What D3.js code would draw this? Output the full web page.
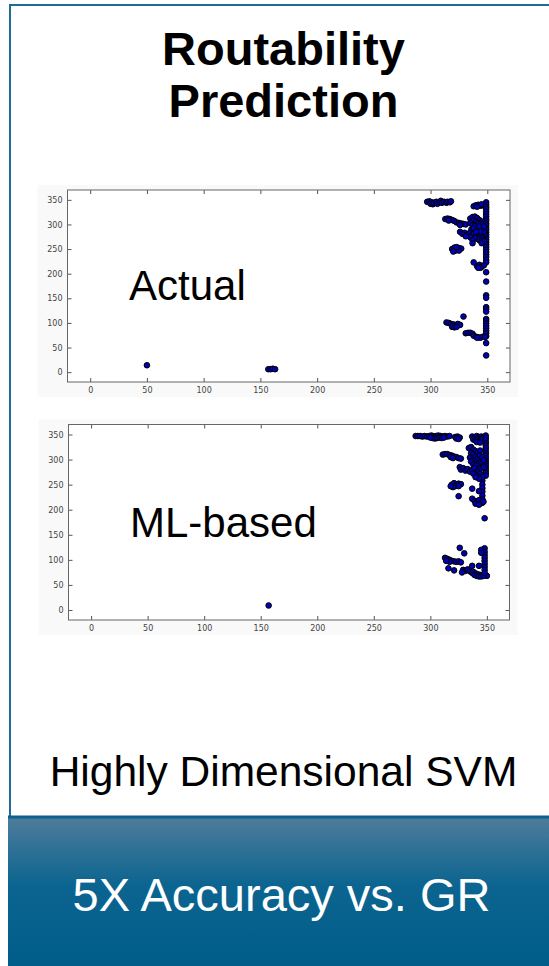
<!DOCTYPE html>
<html>
<head>
<meta charset="utf-8">
<script src="https://cdn.jsdelivr.net/npm/d3@7"></script>
<style>
  body { margin: 0; background: #fff; }
  svg { display: block; font-family: "Liberation Sans", Arial, sans-serif; }
</style>
</head>
<body>
<div id="chart"></div>
<script>
// tick values shared by both scatter plots
var tickValues = [0, 50, 100, 150, 200, 250, 300, 350];

// actual routability hotspots [x, y]
var actualPoints = [
  [297,346],[299,347],[301,345],[300,342],[302,341],[303,344],[305,346],[306,342],[308,345],[309,348],
  [310,344],[312,346],[314,344],[315,346],[317,345],[318,347],
  [338,337],[340,339],[342,340],[344,338],[346,339],[341,336],[345,341],
  [349,345],[349,340],[349,335],[349,331],[349,326],[349,321],[349,316],[349,311],[349,307],[349,302],
  [349,298],[349,293],[349,289],[349,284],[349,279],[349,274],[349,269],[349,264],[349,259],[349,254],
  [349,249],[349,244],[349,239],[349,234],[349,228],[349,223],[349,203],[349,184],[349,156],[349,151],
  [349,132],[349,128],[349,123],[349,108],[349,104],[349,99],[349,94],[349,89],[349,84],[349,79],
  [349,73],[349,59],[349,34],
  [313,311],[315,312],[317,311],[319,309],[321,307],[323,304],[316,308],[325,303],[327,302],[329,301],
  [331,300],[326,299],
  [335,312],[337,315],[339,316],[341,313],[343,309],[345,306],[338,308],[340,305],[342,303],[344,301],
  [346,300],[335,303],[337,299],[339,297],[343,296],[347,296],[336,290],[338,292],
  [326,285],[328,281],[330,283],[332,279],[334,282],[336,278],[338,281],[340,277],[342,280],[344,276],
  [346,279],[348,281],[345,271],[343,268],[341,271],[339,273],[335,274],[331,276],[347,285],[344,286],
  [340,285],[337,268],[347,266],[345,262],[337,262],
  [319,250],[321,253],[323,249],[325,252],[327,251],[322,247],[320,245],[325,247],[323,254],
  [338,223],
  [341,215],[343,218],[345,214],[347,217],[344,212],[342,212],
  [314,101],[316,100],[318,98],[320,97],[322,94],[324,98],[326,96],[319,92],[321,91],[323,92],
  [329,113],
  [331,79],[333,80],[335,80],[337,78],
  [338,74],[340,72],[342,71],[344,70],[346,72],[348,71],[341,70],
  [50,14],[157,6],[159,6],[161,7],[163,6]
];

// ML-based prediction [x, y]
var mlPoints = [
  [287,347],[289,347],[291,347],[293,346],[295,347],[297,346],[299,347],[301,348],[303,346],[305,347],
  [307,348],[309,347],[311,346],[313,347],[315,346],[317,347],[302,343],[304,342],[306,343],[308,344],
  [310,343],[300,344],[312,344],
  [322,345],[324,346],[326,344],[323,342],[325,341],
  [337,346],[339,344],[341,347],[343,345],[345,346],[347,344],[338,340],[340,338],[342,340],[344,339],
  [346,341],[341,335],[344,334],
  [349,348],[349,343],[349,338],[349,333],[349,328],[349,323],[349,318],[349,313],[349,308],[349,303],
  [349,298],[349,293],[349,288],[349,283],[349,278],[349,273],[349,268],
  [346,258],[346,250],[346,243],[346,236],[346,228],[346,221],[346,214],
  [348,183],
  [311,310],[313,311],[315,311],[317,309],[319,308],[321,306],[323,305],[325,303],[327,302],[318,305],
  [320,303],
  [334,323],[336,325],[338,320],[340,317],[342,314],[344,318],[336,313],[338,310],[340,306],[342,303],
  [344,308],[346,305],[335,304],[337,300],[339,297],[341,294],[343,292],[345,296],[347,299],[336,296],
  [338,290],[340,288],
  [326,285],[327,280],[329,283],[331,278],[333,281],[335,276],[337,279],[339,283],[341,275],[343,278],
  [345,282],[347,285],[344,271],[341,268],[338,272],[346,265],[343,262],[340,265],
  [319,250],[321,253],[323,249],[325,252],[327,251],[322,247],[320,245],[325,247],[318,247],
  [325,227],[337,242],[343,237],
  [337,222],[339,218],[341,215],[343,219],[345,213],[347,216],[340,212],[343,210],
  [326,124],[330,113],
  [313,104],[315,102],[317,100],[319,98],[321,97],[323,96],[325,97],[327,95],[317,96],[314,98],
  [316,83],[321,79],
  [329,80],[331,78],[333,81],[335,77],[337,74],[328,75],
  [338,76],[340,73],[342,71],[344,70],[346,69],[348,70],[350,68],[339,70],[341,68],[343,67],
  [345,67],[347,68],
  [348,123],[348,116],[348,110],[348,104],[348,98],[348,92],[348,86],[348,80],[348,74],[345,120],
  [345,114],
  [343,88],[337,88],
  [157,9]
];

var W = 549, H = 966;

var svg = d3.select("#chart")
  .append("svg")
  .attr("width", W)
  .attr("height", H);

// panel frame
svg.append("rect")
  .attr("x", 0).attr("y", 0).attr("width", W).attr("height", H)
  .attr("fill", "#fff");
svg.append("line")
  .attr("x1", 10).attr("x2", W).attr("y1", 5).attr("y2", 5)
  .attr("stroke", "#1f6d93").attr("stroke-width", 2);
svg.append("line")
  .attr("x1", 10).attr("x2", 10).attr("y1", 4).attr("y2", 817)
  .attr("stroke", "#1f6d93").attr("stroke-width", 2);

// title
var title = svg.append("text")
  .attr("text-anchor", "middle")
  .attr("font-weight", "bold")
  .attr("font-size", 47)
  .attr("fill", "#000");
title.append("tspan").attr("x", 283.5).attr("y", 65).text("Routability");
title.append("tspan").attr("x", 283.5).attr("y", 117).text("Prediction");

// draw one scatter
function scatter(points, box, label) {
  var g = svg.append("g");

  g.append("rect")
    .attr("x", box.left - 30).attr("y", box.top - 5)
    .attr("width", box.right - box.left + 38)
    .attr("height", box.bottom - box.top + 20)
    .attr("fill", "#f9f9f9");

  var x = d3.scaleLinear().domain([-20, 370]).range([box.left, box.right]);
  var y = d3.scaleLinear().domain([-20, 370]).range([box.bottom, box.top]);

  g.append("rect")
    .attr("x", box.left).attr("y", box.top)
    .attr("width", box.right - box.left)
    .attr("height", box.bottom - box.top)
    .attr("fill", "#fff");

  g.append("text")
    .attr("x", label.x).attr("y", label.y)
    .attr("font-size", 42)
    .attr("fill", "#000")
    .text(label.text);

  g.selectAll("circle")
    .data(points)
    .enter()
    .append("circle")
    .attr("cx", function(d) { return x(d[0]); })
    .attr("cy", function(d) { return y(d[1]); })
    .attr("r", 2.8)
    .attr("fill", "#0000b8")
    .attr("stroke", "#000")
    .attr("stroke-width", 1);

  var axes = [
    { a: d3.axisBottom(x), t: "translate(0," + box.bottom + ")", lab: true },
    { a: d3.axisLeft(y), t: "translate(" + box.left + ",0)", lab: true },
    { a: d3.axisTop(x), t: "translate(0," + box.top + ")", lab: false },
    { a: d3.axisRight(y), t: "translate(" + box.right + ",0)", lab: false }
  ];
  axes.forEach(function(o) {
    o.a.tickValues(tickValues).tickSizeInner(-4).tickSizeOuter(0).tickPadding(5);
    if (!o.lab) o.a.tickFormat("");
    var ag = g.append("g").attr("transform", o.t).call(o.a);
    ag.select(".domain").remove();
    ag.selectAll("line").attr("stroke", "#555");
    ag.selectAll("text")
      .attr("font-family", "DejaVu Sans, sans-serif")
      .attr("font-size", 8)
      .attr("fill", "#444");
  });

  g.append("rect")
    .attr("x", box.left).attr("y", box.top)
    .attr("width", box.right - box.left)
    .attr("height", box.bottom - box.top)
    .attr("fill", "none")
    .attr("stroke", "#666")
    .attr("stroke-width", 1);
}

scatter(actualPoints, { left: 67.5, right: 510, top: 190, bottom: 382 },
  { x: 129, y: 300, text: "Actual" });
scatter(mlPoints, { left: 68.5, right: 509.5, top: 424.5, bottom: 620 },
  { x: 130, y: 537, text: "ML-based" });

svg.append("text")
  .attr("x", 283.5).attr("y", 786)
  .attr("text-anchor", "middle")
  .attr("font-size", 42.5)
  .attr("fill", "#000")
  .text("Highly Dimensional SVM");

// bottom banner
var grad = svg.append("defs").append("linearGradient")
  .attr("id", "band").attr("x1", 0).attr("x2", 0).attr("y1", 0).attr("y2", 1);
grad.append("stop").attr("offset", "0%").attr("stop-color", "#4f7c9b");
grad.append("stop").attr("offset", "45%").attr("stop-color", "#0c6590");
grad.append("stop").attr("offset", "100%").attr("stop-color", "#005c89");

svg.append("rect")
  .attr("x", 8).attr("y", 817).attr("width", W - 8).attr("height", H - 817)
  .attr("fill", "url(#band)");
svg.append("line")
  .attr("x1", 8).attr("x2", W).attr("y1", 817).attr("y2", 817)
  .attr("stroke", "#0a628d").attr("stroke-width", 3);

svg.append("text")
  .attr("x", 281.5).attr("y", 911)
  .attr("text-anchor", "middle")
  .attr("font-size", 47)
  .attr("fill", "#fff")
  .text("5X Accuracy vs. GR");
</script>
</body>
</html>
